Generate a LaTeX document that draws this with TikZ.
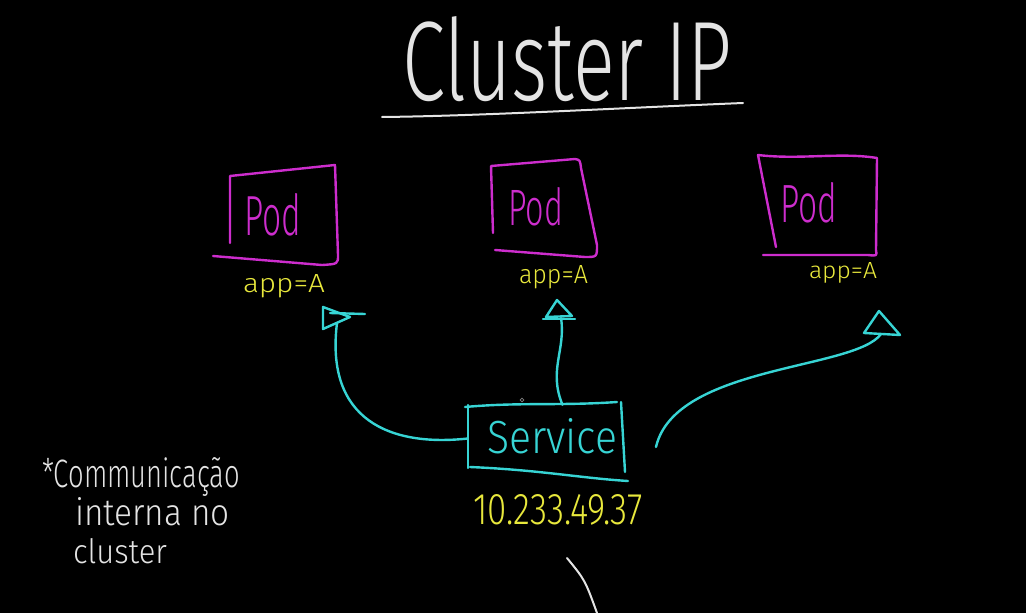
\documentclass[tikz,border=0pt]{standalone}
\usepackage{fontspec}
\usepackage{graphicx}
\setmainfont{Fira Sans Light}
\definecolor{mag}{RGB}{205,45,205}
\definecolor{cy}{RGB}{55,212,212}
\definecolor{yel}{RGB}{232,232,60}
\definecolor{wht}{RGB}{228,228,228}
\newcommand{\rtxt}[3]{\resizebox{#1pt}{#2pt}{#3}}
\tikzset{
  lbl/.style={inner sep=0pt, outer sep=0pt, anchor=base west},
  podline/.style={draw=mag, line width=2.4pt, line cap=round, line join=round},
  cyline/.style={draw=cy, line width=2.4pt, line cap=round, line join=round},
  whline/.style={draw=wht, line width=2pt, line cap=round},
}
\begin{document}
\begin{tikzpicture}[x=1pt,y=-1pt]
\fill[black] (0,0) rectangle (1026,613);
\path[use as bounding box] (0,0) rectangle (1026,613);

% title
\node[lbl, text=wht] (title) at (402,100) {\rtxt{330}{84}{Cluster IP}};
\coordinate (ul1) at (382,117);
\coordinate (ul2) at (743,103);
\draw[whline] (ul1) .. controls (480,116) and (620,108) .. (ul2);

% pods
\draw[podline] (230,243) -- (230,176) -- (335,165) -- (338,255) .. controls (338,264) .. (322,265) -- (213,256);
\node[lbl, text=mag] (pod1) at (244,235) {\rtxt{57}{42}{Pod}};
\node[lbl, text=yel] (app1) at (243,292) {\rtxt{82}{18}{app=A}};

\draw[podline] (493,233) -- (491,166) -- (575,159) .. controls (580,160) .. (581,168) -- (597,245) .. controls (597,257) .. (585,257) -- (495,250);
\node[lbl, text=mag] (pod2) at (508,225) {\rtxt{55}{38}{Pod}};
\node[lbl, text=yel] (app2) at (519,283) {\rtxt{69}{18}{app=A}};

\draw[podline] (776,247) -- (758,155) .. controls (800,160) and (840,152) .. (877,158) -- (876,250) .. controls (877,256) .. (868,255) -- (763,255);
\node[lbl, text=mag] (pod3) at (780,222) {\rtxt{57}{40}{Pod}};
\node[lbl, text=yel] (app3) at (809,278) {\rtxt{68}{16}{app=A}};

% service
\node[minimum width=155pt, minimum height=67pt, inner sep=0pt] (svc) at (545.5,438.5) {};
\draw[cyline] (468,405) -- (468,468);
\draw[cyline] (465,407) .. controls (520,402) and (560,406) .. (617,402);
\draw[cyline] (621,402) -- (625,472);
\draw[cyline] (470,467) .. controls (540,470) and (580,478) .. (628,481);
\node[lbl, text=cy] (svctext) at (487,453) {\rtxt{130}{35}{Service}};
\node[lbl, text=yel] (ip) at (473,524) {\rtxt{170}{30}{10.233.49.37}};
\node[circle, draw=gray, line width=0.8pt, inner sep=1.3pt] (dot) at (522,400) {};

% arrow heads
\draw[cyline] (323,307) -- (350,317) -- (323,329) -- cycle;
\draw[cyline] (330,313) -- (365,314);
\draw[cyline] (557,300) -- (572,316) -- (546,317) -- cycle;
\draw[cyline] (543,319) -- (575,319);
\draw[cyline] (879,311) -- (900,335) -- (864,333) -- cycle;
\coordinate (t1) at (337,323);
\coordinate (t2) at (561,318);
\coordinate (t3) at (881,334);
\coordinate (s3) at (656,447);

% connectors
\draw[cyline] (svc.west) .. controls (390,447) and (325,420) .. (t1);
\draw[cyline] ([xshift=17pt]svc.north) .. controls (548,370) and (566,350) .. (t2);
\draw[cyline] (s3) .. controls (675,365) and (855,370) .. (t3);

% note
\node[lbl, text=wht] (note1) at (42,487) {\rtxt{198}{30}{*Communicação}};
\node[lbl, text=wht] (note2) at (75,525) {\rtxt{155}{28}{interna no}};
\node[lbl, text=wht] (note3) at (73,563) {\rtxt{94}{25}{cluster}};

% bottom stroke
\coordinate (b1) at (567,558);
\coordinate (b2) at (597,613);
\draw[whline] (b1) .. controls (585,580) .. (b2);
\end{tikzpicture}
\end{document}
